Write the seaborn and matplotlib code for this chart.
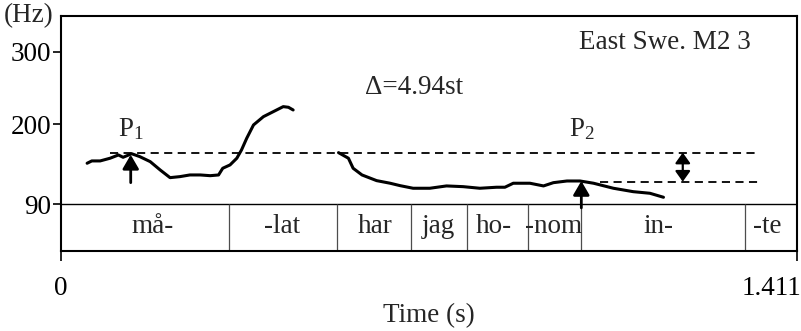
import numpy as np
import pandas as pd
import matplotlib
matplotlib.use("Agg")
import matplotlib.pyplot as plt
import matplotlib.transforms as mtransforms
import seaborn as sns

# F0 contour, first voiced stretch ("må-lat")
seg1_time = [0.050, 0.059, 0.075, 0.094, 0.110, 0.119, 0.1355, 0.151, 0.171, 0.190,
             0.209, 0.228, 0.247, 0.267, 0.286, 0.302, 0.310, 0.324, 0.337, 0.346,
             0.356, 0.369, 0.388, 0.407, 0.426, 0.436, 0.445]
seg1_f0 = [146.4, 149.6, 149.6, 153.3, 157.8, 154.6, 159.5, 155.5, 148.6, 137.2,
           126.6, 128.0, 130.3, 130.3, 129.3, 130.3, 139.5, 144.1, 153.3, 164.7,
           180.8, 199.1, 210.5, 217.4, 224.3, 223.4, 219.7]

# F0 contour, second voiced stretch ("har jag honom in-")
seg2_time = [0.532, 0.551, 0.560, 0.577, 0.605, 0.631, 0.650, 0.675, 0.707, 0.739,
             0.771, 0.803, 0.835, 0.851, 0.867, 0.899, 0.925, 0.944, 0.970, 0.995,
             1.021, 1.059, 1.097, 1.129, 1.155]
seg2_f0 = [161.0, 153.3, 139.5, 130.3, 122.5, 118.9, 115.6, 112.0, 112.0, 115.2,
           114.2, 112.0, 113.4, 113.4, 118.9, 118.9, 115.2, 119.7, 122.0, 122.0,
           118.9, 112.0, 107.3, 105.1, 99.6]

# Syllable segmentation
syllables = ["må-", "-lat", "har", "jag", "ho-", "-nom", "in-", "-te"]
syllable_centers = [0.1764, 0.4231, 0.6020, 0.7228, 0.8291, 0.9451, 1.1445, 1.3548]
boundaries = [0.3227, 0.5285, 0.671, 0.778, 0.895, 0.9975, 1.311]

# Peak measurements
p1_time, p1_hz = 0.1336, 161.0
p2_time, p2_hz = 0.9975, 121.05
semitones = 12 * np.log2(p1_hz / p2_hz)

duration = 1.411
y_ticks = [90, 200, 300]

df = pd.DataFrame({
    "time": seg1_time + seg2_time,
    "f0": seg1_f0 + seg2_f0,
    "stretch": ["a"] * len(seg1_time) + ["b"] * len(seg2_time),
})

sns.set_style("ticks")
plt.rcParams["font.family"] = ["Liberation Serif", "DejaVu Serif"]
plt.rcParams["mathtext.fontset"] = "custom"
plt.rcParams["mathtext.rm"] = "Liberation Serif"
plt.rcParams["mathtext.it"] = "Liberation Serif:italic"

FS = 19.5

fig, ax = plt.subplots(figsize=(8.01, 3.31), dpi=100)
fig.subplots_adjust(left=0.0762, right=0.995, bottom=0.2402, top=0.9517)

sns.lineplot(data=df, x="time", y="f0", units="stretch", estimator=None,
             color="black", lw=2.2, ax=ax, legend=False)

ymin, ymax = 25, 349
ax.set_xlim(0, duration)
ax.set_ylim(ymin, ymax)

# Segmentation tier
ax.axhline(90, color="black", lw=1.0)
ax.vlines(boundaries, ymin, 90, color="0.3", lw=0.9)
for lab, xc in zip(syllables, syllable_centers):
    ax.text(xc, 60, lab, ha="center", va="center", fontsize=FS)

# Reference levels of P1 and P2
dash = (0, (4.5, 3))
ax.plot([0.094, 1.336], [p1_hz, p1_hz], color="black", lw=1.3, ls=dash)
ax.plot([1.033, 1.336], [p2_hz, p2_hz], color="black", lw=1.3, ls=dash)

arrow = dict(arrowstyle="-|>,head_length=0.6,head_width=0.35", color="black",
             lw=2.0, mutation_scale=14, shrinkA=0, shrinkB=0)
ax.annotate("", xy=(p1_time, 158.0), xytext=(p1_time, 119.7), arrowprops=arrow)
ax.annotate("", xy=(p2_time, 122.0), xytext=(p2_time, 85.0), arrowprops=arrow)
darrow = dict(arrowstyle="<|-|>,head_length=0.42,head_width=0.3", color="black",
              lw=1.6, mutation_scale=15, shrinkA=0, shrinkB=0)
ax.annotate("", xy=(1.192, p1_hz), xytext=(1.192, p2_hz), arrowprops=darrow)

ax.text(p1_time, 193.6, r"P$_{\mathrm{1}}$", ha="center", va="center", fontsize=FS)
ax.text(p2_time + 0.002, 193.6, r"P$_{\mathrm{2}}$", ha="center", va="center", fontsize=FS)
ax.text(0.677, 250, f"Δ={semitones:.2f}st", ha="center", va="center", fontsize=FS)
ax.text(1.157, 312, "East Swe. M2 3", ha="center", va="center", fontsize=FS)
ax.text(-0.0435, 1.0, "(Hz)", transform=ax.transAxes, ha="center", va="center",
        fontsize=FS)

# Axes styling
for sp in ax.spines.values():
    sp.set_visible(True)
    sp.set_color("black")
    sp.set_linewidth(1.5)
ax.set_yticks(y_ticks)
ax.set_yticklabels([str(v) for v in y_ticks])
ax.set_xticks([0, duration])
ax.set_xticklabels(["0", f"{duration:.3f}"])
ax.tick_params(axis="y", direction="out", length=6, width=1.2, pad=1,
               labelsize=FS, colors="black")
ax.tick_params(axis="x", direction="out", length=7, width=1.2, pad=11,
               labelsize=FS, colors="black")
last = ax.get_xticklabels()[1]
last.set_ha("right")
last.set_transform(last.get_transform() +
                   mtransforms.ScaledTranslation(4 / 100, 0, fig.dpi_scale_trans))
ax.set_xlabel("Time (s)", fontsize=FS, labelpad=1)
ax.set_ylabel("")

fig.savefig("out.png", dpi=100)
